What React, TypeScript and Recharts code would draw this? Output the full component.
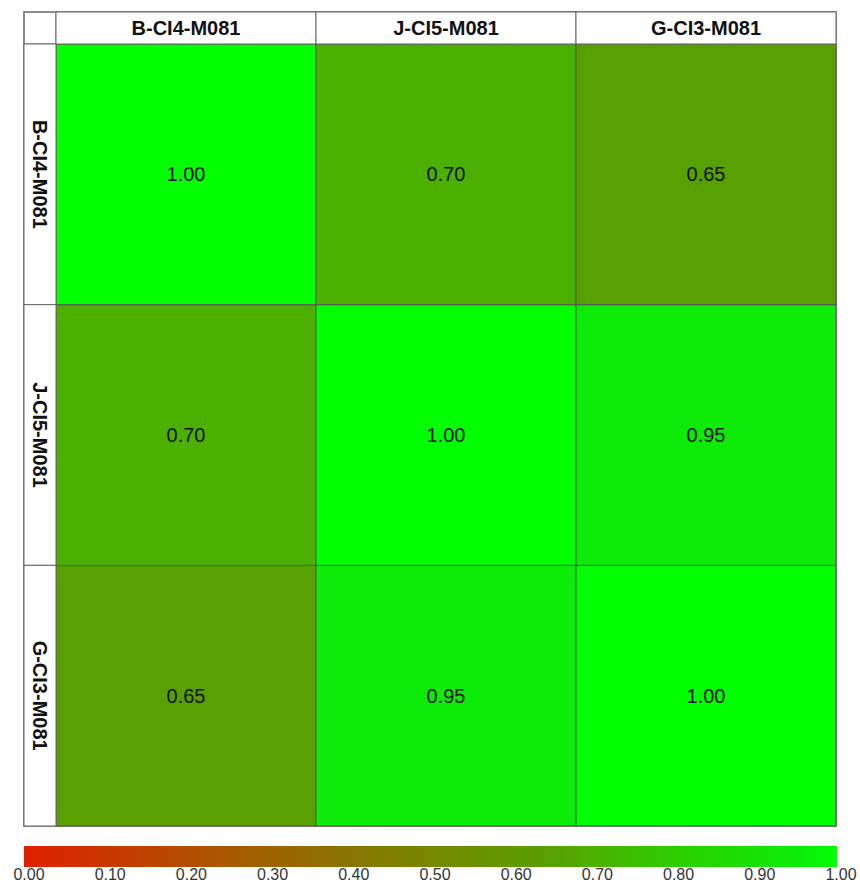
import React from 'react';
import { BarChart, Bar, XAxis, YAxis, Cell, LabelList, Customized } from 'recharts';

const rowNames = ['B-CI4-M081', 'J-CI5-M081', 'G-CI3-M081'];
const colNames = ['B-CI4-M081', 'J-CI5-M081', 'G-CI3-M081'];
const corrB = [1.0, 0.7, 0.65];
const corrJ = [0.7, 1.0, 0.95];
const corrG = [0.65, 0.95, 1.0];
const colorbarTicks = [0, 0.1, 0.2, 0.3, 0.4, 0.5, 0.6, 0.7, 0.8, 0.9, 1.0];
const stopValues = [0, 0.25, 0.5, 0.65, 0.7, 0.8, 0.95, 1];
const stopColors: number[][] = [
  [224, 32, 0],
  [168, 88, 0],
  [118, 136, 0],
  [88, 160, 0],
  [76, 176, 0],
  [45, 205, 0],
  [12, 236, 8],
  [0, 255, 0],
];

const W = 860;
const H = 884;
const FRAME_X = 24;
const FRAME_Y = 12;
const PLOT_X = 56;
const PLOT_Y = 44;
const M = { top: FRAME_Y, right: 24, bottom: 58, left: FRAME_X };
const plotW = W - PLOT_X - M.right;
const plotH = H - PLOT_Y - M.bottom;
const colW = plotW / colNames.length;
const rowH = plotH / rowNames.length;
const FONT = '"Liberation Sans", Arial, sans-serif';

function toHex(c: number[]) {
  return '#' + c.map((x) => Math.round(x).toString(16).padStart(2, '0')).join('');
}

function colorFor(v: number) {
  for (let i = 0; i < stopValues.length - 1; i++) {
    const a = stopValues[i];
    const b = stopValues[i + 1];
    if (v >= a && v <= b) {
      const t = (v - a) / (b - a);
      const ca = stopColors[i];
      const cb = stopColors[i + 1];
      return toHex(ca.map((x, k) => x + (cb[k] - x) * t));
    }
  }
  return toHex(stopColors[stopColors.length - 1]);
}

const matrix = [corrB, corrJ, corrG];
const data = colNames.map((col, j) => ({
  col,
  r0: 1,
  r1: 1,
  r2: 1,
  v0: corrB[j],
  v1: corrJ[j],
  v2: corrG[j],
}));

const rowTickValue = (i: number) => rowNames.length - i - 0.5;

const TopTick = (props: any) => {
  const { x, payload } = props;
  return (
    <g>
      <rect x={x - colW / 2} y={FRAME_Y} width={colW} height={PLOT_Y - FRAME_Y} fill="#fff" stroke="#666" strokeWidth={1} />
      <text x={x} y={FRAME_Y + (PLOT_Y - FRAME_Y) / 2 + 7} textAnchor="middle" fontFamily={FONT} fontWeight="bold" fontSize={20} fill="#111">
        {payload.value}
      </text>
    </g>
  );
};

const LeftTick = (props: any) => {
  const { y, payload } = props;
  const idx = rowNames.length - 1 - Math.floor(payload.value);
  const name = rowNames[idx];
  const cx = FRAME_X + (PLOT_X - FRAME_X) / 2;
  return (
    <g>
      <rect x={FRAME_X} y={y - rowH / 2} width={PLOT_X - FRAME_X} height={rowH} fill="#fff" stroke="#666" strokeWidth={1} />
      <text x={cx} y={y} transform={`rotate(90 ${cx} ${y})`} dy={7} textAnchor="middle" fontFamily={FONT} fontWeight="bold" fontSize={20} fill="#111">
        {name}
      </text>
    </g>
  );
};

const Overlay = () => (
  <g>
    <rect x={FRAME_X} y={FRAME_Y} width={PLOT_X - FRAME_X} height={PLOT_Y - FRAME_Y} fill="#fff" stroke="#666" strokeWidth={1} />
    <rect x={FRAME_X} y={FRAME_Y} width={W - M.right - FRAME_X} height={H - M.bottom - FRAME_Y} fill="none" stroke="#8a8a8a" strokeWidth={2} />
    <defs>
      <linearGradient id="cbar" x1="0" y1="0" x2="1" y2="0">
        {stopValues.map((v, i) => (
          <stop key={i} offset={v} stopColor={toHex(stopColors[i])} />
        ))}
      </linearGradient>
    </defs>
    <rect x={24} y={846} width={813} height={21} fill="url(#cbar)" />
    {colorbarTicks.map((v) => (
      <text key={v} x={29 + v * 812} y={880} textAnchor="middle" fontFamily={FONT} fontSize={16} fill="#333">
        {v.toFixed(2)}
      </text>
    ))}
  </g>
);

const seriesOrder = [2, 1, 0];

export default function App() {
  return (
    <div style={{ position: 'absolute', left: 0, top: 0, background: '#fff' }}>
      <BarChart width={W} height={H} data={data} margin={M} barCategoryGap={0}>
        <XAxis dataKey="col" orientation="top" height={PLOT_Y - FRAME_Y} axisLine={false} tickLine={false} tick={<TopTick />} interval={0} />
        <YAxis
          type="number"
          domain={[0, rowNames.length]}
          ticks={rowNames.map((_, i) => rowTickValue(i))}
          width={PLOT_X - FRAME_X}
          axisLine={false}
          tickLine={false}
          tick={<LeftTick />}
          interval={0}
        />
        {seriesOrder.map((ri) => (
          <Bar key={ri} dataKey={`r${ri}`} stackId="a" isAnimationActive={false}>
            {matrix[ri].map((v, j) => (
              <Cell key={j} fill={colorFor(v)} stroke="#555" strokeWidth={1} />
            ))}
            <LabelList
              dataKey={`v${ri}`}
              position="center"
              formatter={(v: any) => Number(v).toFixed(2)}
              style={{ fontFamily: FONT, fontSize: 20, fill: '#111' }}
            />
          </Bar>
        ))}
        <Customized component={Overlay} />
      </BarChart>
    </div>
  );
}
